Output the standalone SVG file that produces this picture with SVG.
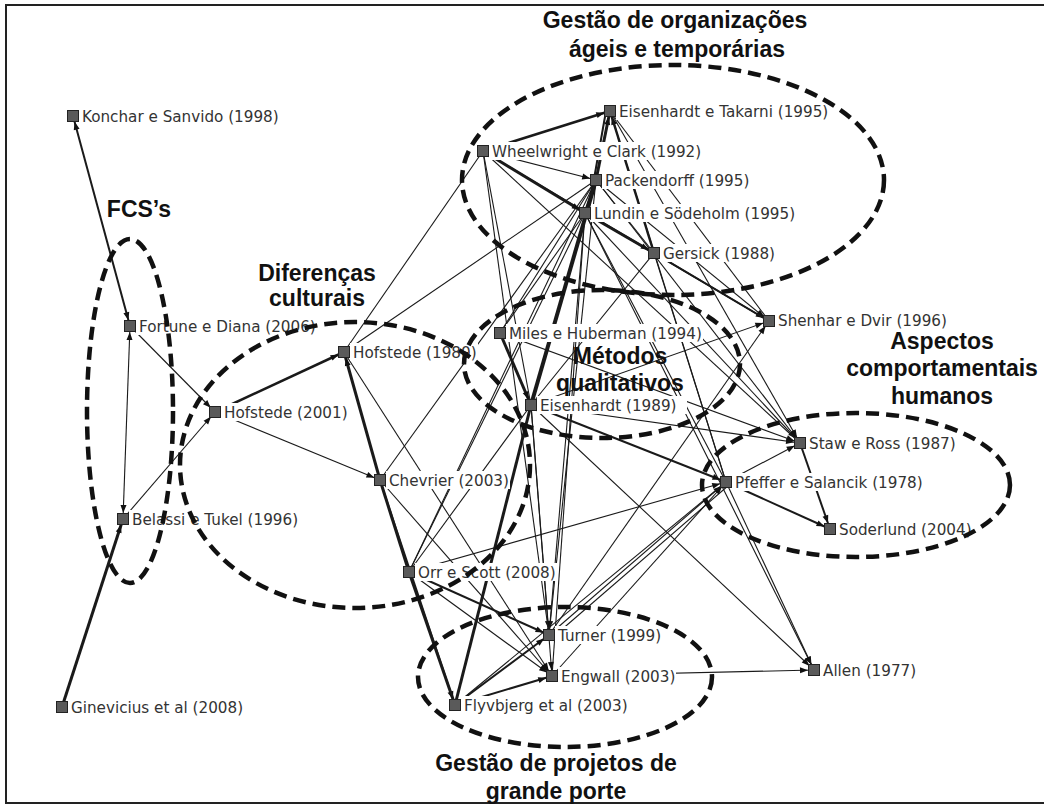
<svg xmlns="http://www.w3.org/2000/svg" width="1044" height="806" viewBox="0 0 1044 806">
<style>
.e{stroke:#1a1a1a;fill:none}
.e1{stroke-width:1.1}
.e15{stroke-width:1.6}
.e2{stroke-width:2}
.e25{stroke-width:2.5}
.e3{stroke-width:3}
.e4{stroke-width:4}
.lb{fill:#fff}
.nl{font-family:"DejaVu Sans",Verdana,sans-serif;font-size:15.2px;fill:#333}
.sq{fill:#5a5a5a;stroke:#222;stroke-width:1}
.cl{fill:none;stroke:#111;stroke-width:4.5;stroke-dasharray:13 7}
.ct{font-family:"Liberation Sans",Arial,sans-serif;font-weight:bold;font-size:23px;fill:#111;text-anchor:middle}
</style>
<defs>
<marker id="ah" markerUnits="userSpaceOnUse" markerWidth="16" markerHeight="8" refX="14" refY="3" orient="auto" overflow="visible"><path d="M0,0 L8,3 L0,6 z" fill="#111"/></marker>
<marker id="as" markerUnits="userSpaceOnUse" markerWidth="16" markerHeight="8" refX="14" refY="3" orient="auto-start-reverse" overflow="visible"><path d="M0,0 L8,3 L0,6 z" fill="#111"/></marker>
</defs>
<rect x="0" y="0" width="1044" height="806" fill="#fff"/>
<path d="M1044,5 H6 V803 H1044" fill="none" stroke="#222" stroke-width="2"/>
<g id="connectors">
<line class="e e2" x1="73" y1="116" x2="130" y2="326" marker-end="url(#ah)" marker-start="url(#as)"/>
<line class="e e1" x1="130" y1="326" x2="123" y2="519" marker-end="url(#ah)" marker-start="url(#as)"/>
<line class="e e1" x1="130" y1="326" x2="215" y2="412" marker-end="url(#ah)"/>
<line class="e e1" x1="123" y1="519" x2="215" y2="412" marker-end="url(#ah)"/>
<line class="e e3" x1="62" y1="707" x2="123" y2="519" marker-end="url(#ah)"/>
<line class="e e25" x1="215" y1="412" x2="344" y2="352" marker-end="url(#ah)"/>
<line class="e e1" x1="215" y1="412" x2="380" y2="480" marker-end="url(#ah)"/>
<line class="e e3" x1="380" y1="480" x2="344" y2="352" marker-end="url(#ah)"/>
<line class="e e1" x1="344" y1="352" x2="483" y2="151"/>
<line class="e e1" x1="344" y1="352" x2="596" y2="180"/>
<line class="e e1" x1="344" y1="352" x2="552" y2="676" marker-end="url(#ah)"/>
<line class="e e3" x1="380" y1="480" x2="409" y2="572"/>
<line class="e e3" x1="409" y1="572" x2="455" y2="705" marker-end="url(#ah)"/>
<line class="e e15" x1="380" y1="480" x2="455" y2="705"/>
<line class="e e1" x1="380" y1="480" x2="596" y2="180"/>
<line class="e e1" x1="380" y1="480" x2="552" y2="676" marker-end="url(#ah)"/>
<line class="e e1" x1="409" y1="572" x2="596" y2="180"/>
<line class="e e1" x1="409" y1="572" x2="585" y2="213"/>
<line class="e e1" x1="409" y1="572" x2="531" y2="405"/>
<line class="e e1" x1="409" y1="572" x2="726" y2="482" marker-end="url(#ah)"/>
<line class="e e2" x1="409" y1="572" x2="549" y2="635" marker-end="url(#ah)"/>
<line class="e e1" x1="409" y1="572" x2="552" y2="676" marker-end="url(#ah)"/>
<line class="e e2" x1="455" y1="705" x2="549" y2="635" marker-end="url(#ah)"/>
<line class="e e2" x1="455" y1="705" x2="552" y2="676" marker-end="url(#ah)"/>
<line class="e e3" x1="455" y1="705" x2="531" y2="405"/>
<line class="e e4" x1="531" y1="405" x2="596" y2="180" marker-end="url(#ah)"/>
<line class="e e3" x1="500" y1="333" x2="531" y2="405" marker-end="url(#ah)"/>
<line class="e e1" x1="531" y1="405" x2="549" y2="635" marker-end="url(#ah)"/>
<line class="e e1" x1="531" y1="405" x2="552" y2="676" marker-end="url(#ah)"/>
<line class="e e1" x1="585" y1="213" x2="549" y2="635" marker-end="url(#ah)"/>
<line class="e e1" x1="585" y1="213" x2="552" y2="676"/>
<line class="e e1" x1="596" y1="180" x2="549" y2="635"/>
<line class="e e1" x1="483" y1="151" x2="549" y2="635"/>
<line class="e e1" x1="483" y1="151" x2="531" y2="405"/>
<line class="e e1" x1="552" y1="676" x2="814" y2="670" marker-end="url(#ah)"/>
<line class="e e1" x1="531" y1="405" x2="814" y2="670" marker-end="url(#ah)"/>
<line class="e e1" x1="585" y1="213" x2="814" y2="670" marker-end="url(#ah)"/>
<line class="e e1" x1="726" y1="482" x2="814" y2="670" marker-end="url(#ah)"/>
<line class="e e1" x1="549" y1="635" x2="726" y2="482" marker-end="url(#ah)"/>
<line class="e e1" x1="552" y1="638" x2="729" y2="485"/>
<line class="e e1" x1="552" y1="676" x2="726" y2="482" marker-end="url(#ah)"/>
<line class="e e1" x1="455" y1="705" x2="726" y2="482"/>
<line class="e e1" x1="549" y1="635" x2="769" y2="321" marker-end="url(#ah)"/>
<line class="e e2" x1="531" y1="405" x2="726" y2="482" marker-end="url(#ah)"/>
<line class="e e1" x1="531" y1="405" x2="800" y2="443" marker-end="url(#ah)"/>
<line class="e e1" x1="500" y1="333" x2="800" y2="443" marker-end="url(#ah)"/>
<line class="e e1" x1="531" y1="405" x2="769" y2="321" marker-end="url(#ah)"/>
<line class="e e1" x1="610" y1="111" x2="800" y2="443" marker-end="url(#ah)"/>
<line class="e e1" x1="596" y1="180" x2="800" y2="443" marker-end="url(#ah)"/>
<line class="e e1" x1="585" y1="213" x2="800" y2="443" marker-end="url(#ah)"/>
<line class="e e1" x1="726" y1="482" x2="800" y2="443" marker-end="url(#ah)"/>
<line class="e e2" x1="800" y1="443" x2="830" y2="529" marker-end="url(#ah)"/>
<line class="e e2" x1="726" y1="482" x2="830" y2="529" marker-end="url(#ah)"/>
<line class="e e2" x1="654" y1="253" x2="769" y2="321" marker-end="url(#ah)"/>
<line class="e e1" x1="596" y1="180" x2="769" y2="321" marker-end="url(#ah)"/>
<line class="e e1" x1="610" y1="111" x2="769" y2="321"/>
<line class="e e1" x1="585" y1="213" x2="769" y2="321"/>
<line class="e e1" x1="483" y1="151" x2="769" y2="321"/>
<line class="e e1" x1="654" y1="253" x2="726" y2="482"/>
<line class="e e1" x1="585" y1="213" x2="726" y2="482"/>
<line class="e e1" x1="654" y1="253" x2="531" y2="405"/>
<line class="e e25" x1="483" y1="151" x2="610" y2="111" marker-end="url(#ah)"/>
<line class="e e1" x1="483" y1="151" x2="596" y2="180" marker-end="url(#ah)"/>
<line class="e e3" x1="483" y1="151" x2="585" y2="213" marker-end="url(#ah)"/>
<line class="e e1" x1="483" y1="151" x2="800" y2="443"/>
<line class="e e3" x1="596" y1="180" x2="610" y2="111" marker-end="url(#ah)"/>
<line class="e e2" x1="588" y1="213" x2="606" y2="111"/>
<line class="e e25" x1="654" y1="253" x2="610" y2="111" marker-end="url(#ah)"/>
<line class="e e3" x1="596" y1="180" x2="585" y2="213"/>
<line class="e e3" x1="585" y1="213" x2="654" y2="253" marker-end="url(#ah)"/>
<line class="e e1" x1="596" y1="180" x2="654" y2="253"/>
<line class="e e1" x1="500" y1="333" x2="585" y2="213"/>
<line class="e e1" x1="500" y1="333" x2="596" y2="180"/>
<line class="e e1" x1="610" y1="111" x2="726" y2="482"/>
</g>
<g id="n-konchar"><rect class="lb" x="79" y="107" width="202" height="18"/><text class="nl" x="82" y="122">Konchar e Sanvido (1998)</text><rect class="sq" x="67.5" y="110.5" width="11" height="11"/></g>
<g id="n-fortune"><rect class="lb" x="136" y="317" width="181" height="18"/><text class="nl" x="139" y="332">Fortune e Diana (2006)</text><rect class="sq" x="124.5" y="320.5" width="11" height="11"/></g>
<g id="n-hofstede2001"><rect class="lb" x="221" y="403" width="128" height="18"/><text class="nl" x="224" y="418">Hofstede (2001)</text><rect class="sq" x="209.5" y="406.5" width="11" height="11"/></g>
<g id="n-belassi"><rect class="lb" x="129" y="510" width="173" height="18"/><text class="nl" x="132" y="525">Belassi e Tukel (1996)</text><rect class="sq" x="117.5" y="513.5" width="11" height="11"/></g>
<g id="n-ginevicius"><rect class="lb" x="68" y="698" width="176" height="18"/><text class="nl" x="71" y="713">Ginevicius et al (2008)</text><rect class="sq" x="56.5" y="701.5" width="11" height="11"/></g>
<g id="n-hofstede1980"><rect class="lb" x="350" y="343" width="128" height="18"/><text class="nl" x="353" y="358">Hofstede (1980)</text><rect class="sq" x="338.5" y="346.5" width="11" height="11"/></g>
<g id="n-chevrier"><rect class="lb" x="386" y="471" width="124" height="18"/><text class="nl" x="389" y="486">Chevrier (2003)</text><rect class="sq" x="374.5" y="474.5" width="11" height="11"/></g>
<g id="n-orr"><rect class="lb" x="415" y="563" width="142" height="18"/><text class="nl" x="418" y="578">Orr e Scott (2008)</text><rect class="sq" x="403.5" y="566.5" width="11" height="11"/></g>
<g id="n-flyvbjerg"><rect class="lb" x="461" y="696" width="168" height="18"/><text class="nl" x="464" y="711">Flyvbjerg et al (2003)</text><rect class="sq" x="449.5" y="699.5" width="11" height="11"/></g>
<g id="n-turner"><rect class="lb" x="555" y="626" width="110" height="18"/><text class="nl" x="558" y="641">Turner (1999)</text><rect class="sq" x="543.5" y="629.5" width="11" height="11"/></g>
<g id="n-engwall"><rect class="lb" x="558" y="667" width="118" height="18"/><text class="nl" x="561" y="682">Engwall (2003)</text><rect class="sq" x="546.5" y="670.5" width="11" height="11"/></g>
<g id="n-allen"><rect class="lb" x="820" y="661" width="97" height="18"/><text class="nl" x="823" y="676">Allen (1977)</text><rect class="sq" x="808.5" y="664.5" width="11" height="11"/></g>
<g id="n-eisenhardt1989"><rect class="lb" x="537" y="396" width="150" height="18"/><text class="nl" x="540" y="411">Eisenhardt (1989)</text><rect class="sq" x="525.5" y="399.5" width="11" height="11"/></g>
<g id="n-miles"><rect class="lb" x="506" y="324" width="197" height="18"/><text class="nl" x="509" y="339">Miles e Huberman (1994)</text><rect class="sq" x="494.5" y="327.5" width="11" height="11"/></g>
<g id="n-shenhar"><rect class="lb" x="775" y="312" width="173" height="17"/><text class="nl" x="778" y="326">Shenhar e Dvir (1996)</text><rect class="sq" x="763.5" y="315.5" width="11" height="11"/></g>
<g id="n-staw"><rect class="lb" x="806" y="434" width="151" height="18"/><text class="nl" x="809" y="449">Staw e Ross (1987)</text><rect class="sq" x="794.5" y="437.5" width="11" height="11"/></g>
<g id="n-pfeffer"><rect class="lb" x="732" y="473" width="192" height="18"/><text class="nl" x="735" y="488">Pfeffer e Salancik (1978)</text><rect class="sq" x="720.5" y="476.5" width="11" height="11"/></g>
<g id="n-soderlund"><rect class="lb" x="836" y="520" width="137" height="18"/><text class="nl" x="839" y="535">Soderlund (2004)</text><rect class="sq" x="824.5" y="523.5" width="11" height="11"/></g>
<g id="n-takarni"><rect class="lb" x="616" y="102" width="226" height="18"/><text class="nl" x="619" y="117">Eisenhardt e Takarni (1995)</text><rect class="sq" x="604.5" y="105.5" width="11" height="11"/></g>
<g id="n-wheelwright"><rect class="lb" x="489" y="142" width="213" height="18"/><text class="nl" x="492" y="157">Wheelwright e Clark (1992)</text><rect class="sq" x="477.5" y="145.5" width="11" height="11"/></g>
<g id="n-packendorff"><rect class="lb" x="602" y="171" width="150" height="18"/><text class="nl" x="605" y="186">Packendorff (1995)</text><rect class="sq" x="590.5" y="174.5" width="11" height="11"/></g>
<g id="n-lundin"><rect class="lb" x="591" y="204" width="206" height="18"/><text class="nl" x="594" y="219">Lundin e Södeholm (1995)</text><rect class="sq" x="579.5" y="207.5" width="11" height="11"/></g>
<g id="n-gersick"><rect class="lb" x="660" y="244" width="116" height="18"/><text class="nl" x="663" y="259">Gersick (1988)</text><rect class="sq" x="648.5" y="247.5" width="11" height="11"/></g>
<g id="clusters">
<ellipse class="cl" cx="130" cy="411" rx="43" ry="172"/>
<ellipse class="cl" cx="355" cy="465" rx="175" ry="143"/>
<ellipse class="cl" cx="673" cy="180" rx="211" ry="115"/>
<ellipse class="cl" cx="602" cy="364" rx="138" ry="74"/>
<ellipse class="cl" cx="856" cy="485" rx="154" ry="72"/>
<ellipse class="cl" cx="565" cy="677" rx="147" ry="70"/>
<text class="ct" x="675" y="28">Gestão de organizações</text>
<text class="ct" x="677" y="57">ágeis e temporárias</text>
<text class="ct" x="139" y="217">FCS’s</text>
<text class="ct" x="317" y="281">Diferenças</text>
<text class="ct" x="317" y="306">culturais</text>
<text class="ct" x="620" y="364">Métodos</text>
<text class="ct" x="620" y="391">qualitativos</text>
<text class="ct" x="942" y="349">Aspectos</text>
<text class="ct" x="942" y="376">comportamentais</text>
<text class="ct" x="942" y="404">humanos</text>
<text class="ct" x="556" y="771">Gestão de projetos de</text>
<text class="ct" x="556" y="799">grande porte</text>
</g>
</svg>
